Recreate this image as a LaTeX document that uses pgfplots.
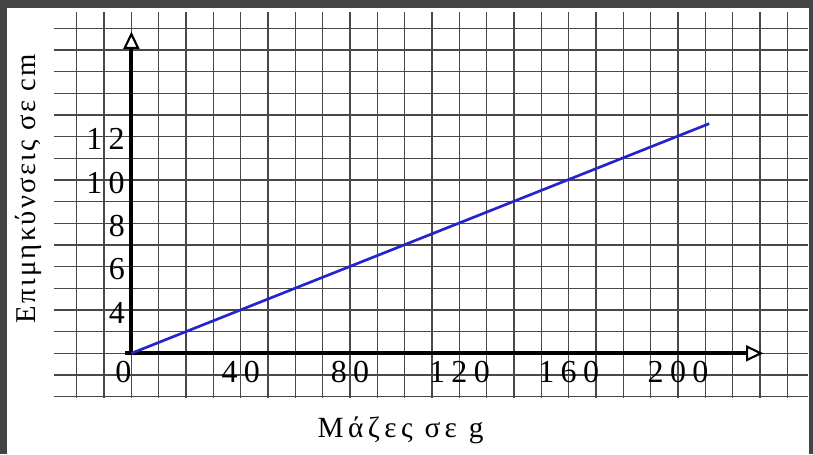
\documentclass[border=0pt]{standalone}
\usepackage{fontspec}
\setmainfont{Liberation Serif}
\newfontfamily\tickfont[LetterSpace=20]{Liberation Serif}
\newfontfamily\xlabfont[LetterSpace=15]{Liberation Serif}
\newfontfamily\ylabfont[LetterSpace=8]{Liberation Serif}
\usepackage{pgfplots}
\pgfplotsset{compat=1.18}
\usetikzlibrary{arrows.meta}
\definecolor{framegray}{RGB}{68,68,68}
\definecolor{gridc}{RGB}{72,72,72}
\definecolor{lineblue}{RGB}{36,36,204}

\begin{document}
\begin{tikzpicture}
% screenshot frame, 1px = 0.75pt, origin of the axis at (0,0)
\useasboundingbox[fill=framegray] (-98.55pt,-75.53pt) rectangle (511.2pt,264.98pt);
\fill[white] (-93.1pt,-75.53pt) rectangle (508.4pt,258.75pt);
\begin{axis}[
  anchor=origin, at={(0pt,0pt)},
  x=2.05pt, y=16.25pt,
  xmin=-28.3, xmax=247.6, ymin=-2.06, ymax=15.75,
  axis line style={draw=none},
  xtick={-20,-10,...,240}, ytick={-2,-1,...,15},
  major tick length=0pt,
  grid=major,
  major grid style={gridc, line width=1.1pt},
  xticklabels={,,\llap{0},,,,40,,,,80,,,,120,,,,160,,,,200,,,,},
  yticklabels={,,,,4,,6,,8,,10,,12,,,,,},
  tick label style={font=\tickfont\fontsize{24pt}{24pt}\selectfont, inner sep=0pt},
  xticklabel style={anchor=north, yshift=27.5pt},
  yticklabel style={anchor=east, xshift=53.25pt, yshift=-2pt},
  xlabel={Μάζες σε g},
  ylabel={Επιμηκύνσεις σε cm},
  xlabel style={font=\xlabfont\fontsize{22pt}{22pt}\selectfont,
    at={(axis description cs:0.4595,-0.1015)}, anchor=base},
  ylabel style={font=\ylabfont\fontsize{21.5pt}{21.5pt}\selectfont,
    at={(axis description cs:-0.0252,0.5427)}, anchor=base},
  clip=false,
]
% axes with open arrow heads
\draw[line width=3pt, -{Triangle[length=13pt, width=12pt, line width=1.6pt, fill=white]}]
  (axis cs:-2.3,0) -- (axis cs:231.2,0);
\draw[line width=3pt, -{Triangle[length=13pt, width=12pt, line width=1.6pt, fill=white]}]
  (axis cs:0,-0.1) -- (axis cs:0,14.85);

\addplot[lineblue, line width=2pt] coordinates {
  (0,0)
  (211.4,10.6)
};
\end{axis}
\end{tikzpicture}
\end{document}
